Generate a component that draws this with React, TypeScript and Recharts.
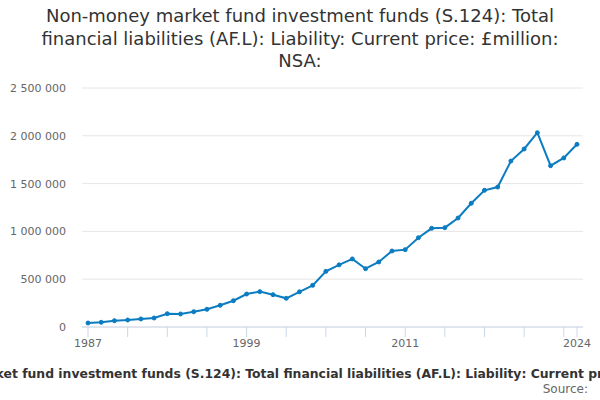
import { LineChart, Line, XAxis, YAxis, CartesianGrid } from 'recharts'

const YEARS = [
  1987, 1988, 1989, 1990, 1991, 1992, 1993, 1994, 1995, 1996,
  1997, 1998, 1999, 2000, 2001, 2002, 2003, 2004, 2005, 2006,
  2007, 2008, 2009, 2010, 2011, 2012, 2013, 2014, 2015, 2016,
  2017, 2018, 2019, 2020, 2021, 2022, 2023, 2024,
]

// £million
const LIABILITIES = [
  42000, 49000, 66000, 73000, 84000, 94000, 139000, 136000, 160000, 185000,
  227000, 275000, 345000, 370000, 338000, 300000, 368000, 436000, 582000, 650000,
  712000, 610000, 680000, 795000, 809000, 934000, 1032000, 1039000, 1140000, 1294000,
  1430000, 1464000, 1736000, 1862000, 2032000, 1687000, 1768000, 1911000,
]

const X_TICKS = [1987, 1990, 1993, 1996, 1999, 2002, 2005, 2008, 2011, 2014, 2017, 2020, 2023, 2024]
const X_LABELS = [1987, 1999, 2011, 2024]
const Y_TICKS = [0, 500000, 1000000, 1500000, 2000000, 2500000]

const TITLE = 'Non-money market fund investment funds (S.124): Total financial liabilities (AF.L): Liability: Current price: £million: NSA:'

const FONT = '"DejaVu Sans", sans-serif'
const AXIS_TICK = { fontSize: 11, fill: '#666666', fontFamily: FONT }

const data = YEARS.map((year, i) => ({ year, value: LIABILITIES[i] }))

const fmt = (v: number) => String(v).replace(/\B(?=(\d{3})+(?!\d))/g, ' ')

export default function App() {
  return (
    <div style={{ position: 'absolute', left: 0, top: 0, width: 600, height: 400, background: '#fff', overflow: 'hidden', fontFamily: FONT }}>
      {/* Title */}
      <div style={{ position: 'absolute', top: 5, left: 0, width: 600, textAlign: 'center', fontSize: 18, lineHeight: '22.5px', color: '#333333' }}>
        Non-money market fund investment funds (S.124): Total<br />
        financial liabilities (AF.L): Liability: Current price: £million:<br />
        NSA:
      </div>

      <LineChart width={600} height={400} data={data} margin={{ top: 88, right: 17, bottom: 43, left: 0 }}>
        <CartesianGrid horizontal vertical={false} stroke="#e6e6e6" />
        <XAxis
          dataKey="year"
          type="number"
          domain={[1987, 2024]}
          ticks={X_TICKS}
          interval={0}
          padding={{ left: 6, right: 6 }}
          tick={AXIS_TICK}
          tickFormatter={(v: number) => (X_LABELS.includes(v) ? String(v) : '')}
          tickSize={10}
          tickMargin={2}
          stroke="#ccd6eb"
          height={30}
        />
        <YAxis
          domain={[0, 2500000]}
          ticks={Y_TICKS}
          tickFormatter={fmt}
          tick={AXIS_TICK}
          axisLine={false}
          tickLine={false}
          tickSize={0}
          tickMargin={16}
          width={82}
        />
        <Line
          type="linear"
          dataKey="value"
          stroke="#0b7cc1"
          strokeWidth={2}
          dot={{ r: 2, fill: '#0b7cc1', stroke: '#0b7cc1', strokeWidth: 1 }}
          isAnimationActive={false}
        />
        {/* footer title runs past both edges, as in the original */}
        <text x={308} y={378} textAnchor="middle" fontFamily={FONT} fontSize={12.4} fontWeight="bold" fill="#333333">
          {TITLE}
        </text>
        <text x={588} y={393} textAnchor="end" fontFamily={FONT} fontSize={12} fill="#666666">
          Source:
        </text>
      </LineChart>
    </div>
  )
}
